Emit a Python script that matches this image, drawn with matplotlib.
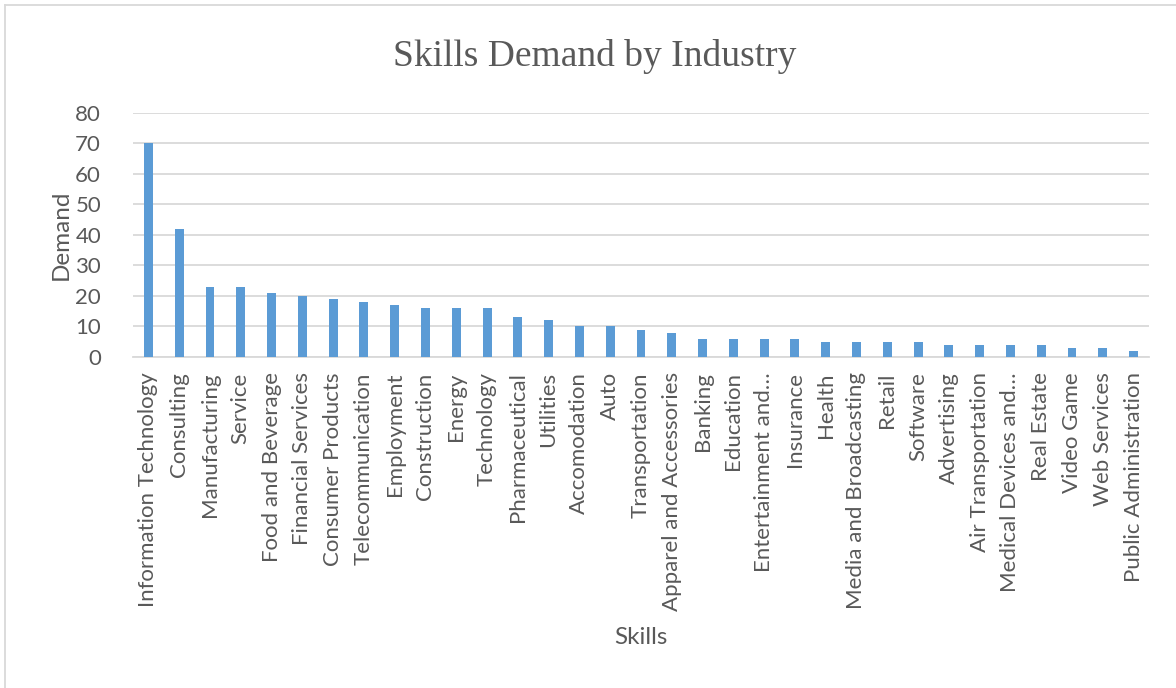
import matplotlib.pyplot as plt
from matplotlib.lines import Line2D

industries = [
    "Information Technology", "Consulting", "Manufacturing", "Service",
    "Food and Beverage", "Financial Services", "Consumer Products",
    "Telecommunication", "Employment", "Construction", "Energy", "Technology",
    "Pharmaceutical", "Utilities", "Accomodation", "Auto", "Transportation",
    "Apparel and Accessories", "Banking", "Education", "Entertainment and…",
    "Insurance", "Health", "Media and Broadcasting", "Retail", "Software",
    "Advertising", "Air Transportation", "Medical Devices and…", "Real Estate",
    "Video Game", "Web Services", "Public Administration",
]
demand = [70, 42, 23, 23, 21, 20, 19, 18, 17, 16, 16, 16, 13, 12, 10, 10, 9,
          8, 6, 6, 6, 6, 5, 5, 5, 5, 4, 4, 4, 4, 3, 3, 2]
yticks = [0, 10, 20, 30, 40, 50, 60, 70, 80]

txt = "#595959"
plt.rcParams["font.family"] = ["Lato", "DejaVu Sans"]

fig = plt.figure(figsize=(11.76, 6.88), dpi=100)
ax = fig.add_axes([0.1131, 0.4811, 0.8639, 0.3551])

x = list(range(len(industries)))
ax.bar(x, demand, width=0.29, color="#5B9BD5", zorder=3)

ax.set_xlim(-0.5, len(industries) - 0.5)
ax.set_ylim(0, 80)
ax.set_yticks(yticks)
ax.set_yticklabels([str(t) for t in yticks], fontsize=16, color=txt)
ax.set_xticks(x)
ax.set_xticklabels(industries, rotation=90, fontsize=16, color=txt)
ax.tick_params(axis="both", length=0)
ax.tick_params(axis="y", pad=23)
ax.tick_params(axis="x", pad=11)

ax.grid(axis="y", color="#D9D9D9", linewidth=1.3, zorder=0)
for s in ["top", "right", "left"]:
    ax.spines[s].set_visible(False)
ax.spines["bottom"].set_color("#D9D9D9")
ax.spines["bottom"].set_linewidth(1.3)

ax.set_ylabel("Demand", fontsize=17.5, color=txt)
ax.yaxis.set_label_coords(-0.06, 0.5)
fig.text(641 / 1176, 1 - 637 / 688, "Skills", fontsize=17.5, color=txt,
         ha="center", va="center")

fig.text(595 / 1176, 1 - 66 / 688, "Skills Demand by Industry",
         family="Liberation Serif", fontsize=27, color=txt,
         ha="center", va="baseline")

# outer chart frame (left and top edges only)
fig.add_artist(Line2D([5 / 1176, 5 / 1176], [0, 1 - 5 / 688],
                      color="#D9D9D9", linewidth=1.3, transform=fig.transFigure))
fig.add_artist(Line2D([5 / 1176, 1], [1 - 5 / 688, 1 - 5 / 688],
                      color="#D9D9D9", linewidth=1.3, transform=fig.transFigure))

fig.savefig("out.png", dpi=100)
